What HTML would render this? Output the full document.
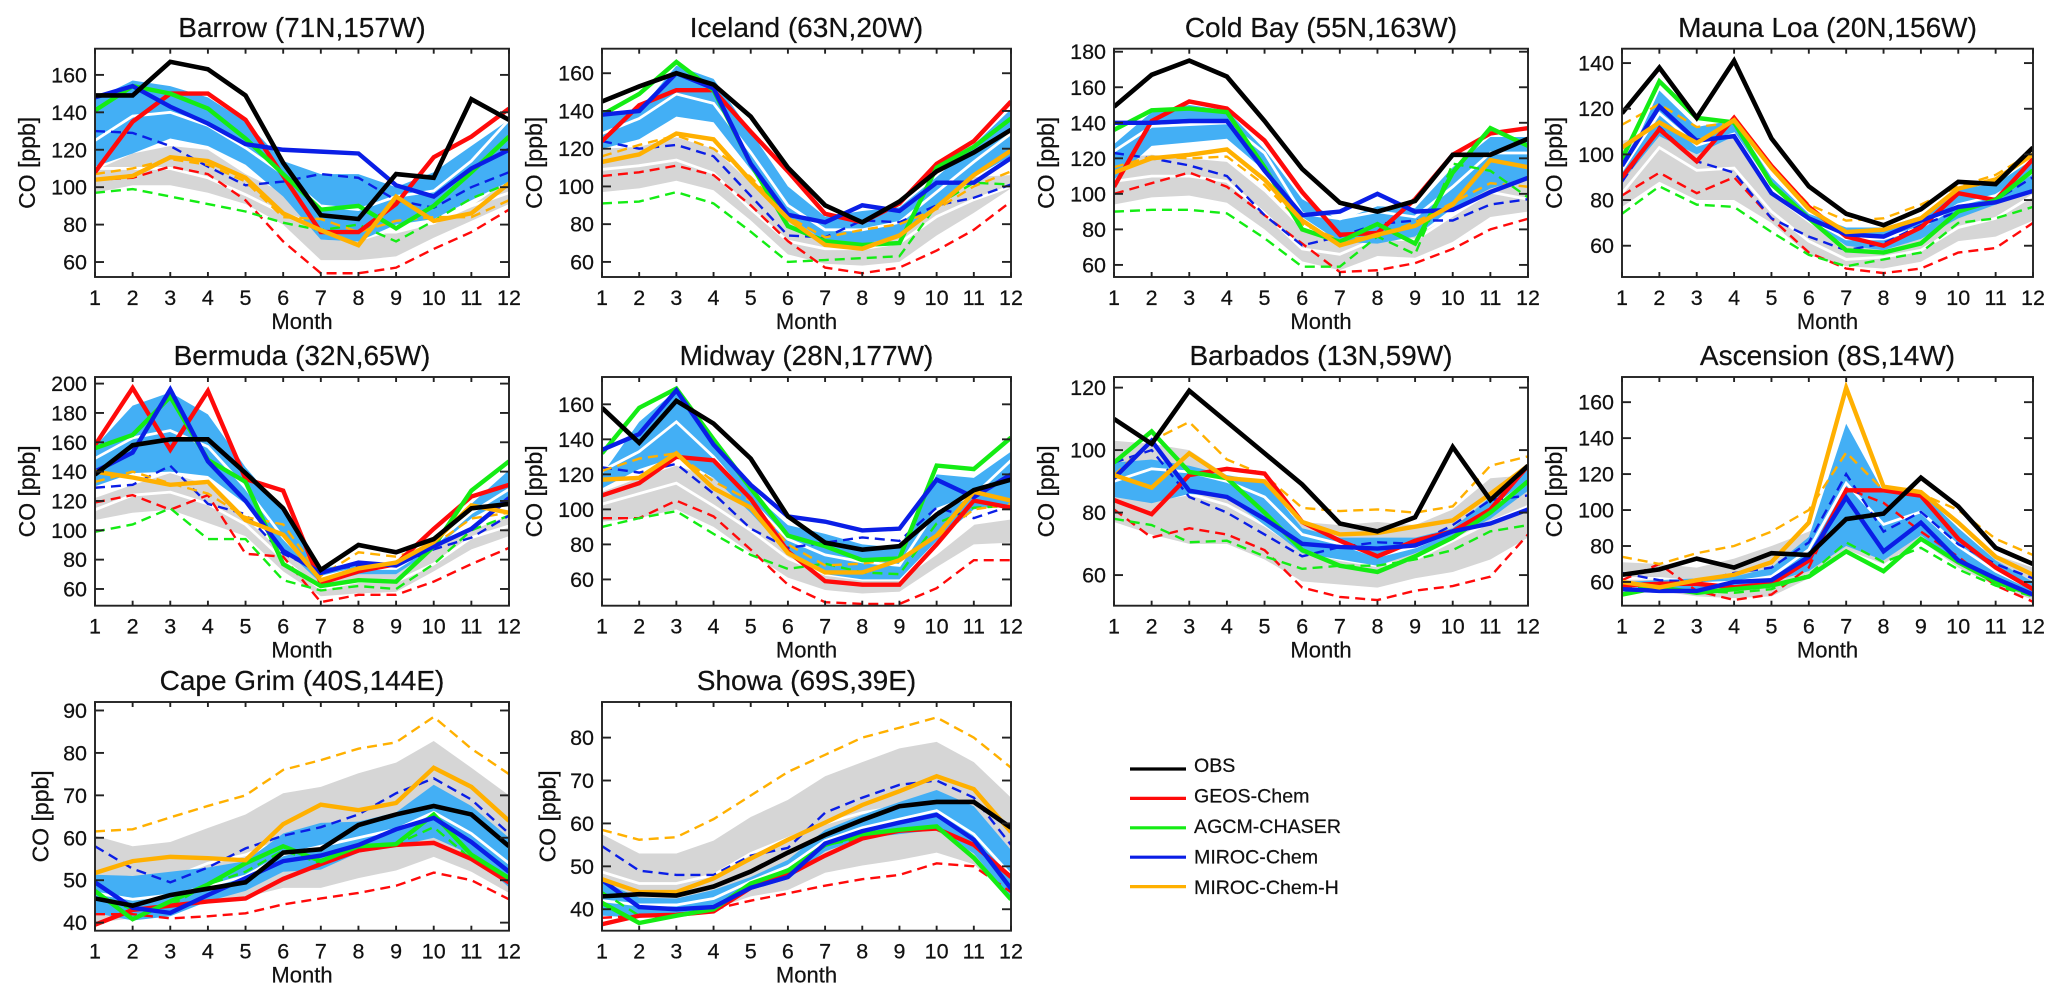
<!DOCTYPE html>
<html lang="en">
<head>
<meta charset="utf-8">
<title>CO seasonal cycle at surface stations</title>
<style>
html,body{margin:0;padding:0;background:#fff;width:2067px;height:1002px;overflow:hidden}
svg{display:block;font-family:"Liberation Sans",Arial,sans-serif}
text{fill:#111;stroke:#111;stroke-width:.22px}
</style>
</head>
<body>
<svg id="figure" xmlns="http://www.w3.org/2000/svg" width="2067" height="1002" viewBox="0 0 2067 1002"></svg>
<script>
const months = [1,2,3,4,5,6,7,8,9,10,11,12];

const barrowRange = [52,174];
const barrowTicks = [60,80,100,120,140,160];
const barrowObs = [149,149,167,163,149,113,85,83,107,105,147,136];
const barrowGeos = [108,135,150,150,136,106,76,76,91,116,127,142];
const barrowAgcm = [141,154,150,142,126,107,88,90,78,90,108,127];
const barrowMiroc = [148,154,143,134,123,120,119,118,101,95,110,120];
const barrowMirocH = [104,106,116,114,105,86,77,69,95,82,86,102];
const barrowGeosDash = [104,105,111,107,93,71,54,54,57,67,76,88];
const barrowAgcmDash = [97,99,95,91,87,81,77,80,71,82,94,102];
const barrowMirocDash = [130,129,122,111,101,103,107,105,93,89,100,108];
const barrowMirocHDash = [107,110,115,112,103,84,83,76,82,84,84,93];
const barrowBlueHi = [147,157,154,148,135,114,107,107,100,108,122,136];
const barrowBlueLo = [111,118,126,122,112,95,72,71,80,83,93,103];
const barrowBlueMid = [125,138,140,133,121,107,90,88,95,98,114,136];
const barrowGrayHi = [109,118,122,120,107,97,72,71,77,80,90,104];
const barrowGrayLo = [97,101,101,97,91,80,61,61,63,73,82,91];
const barrowGrayMid = [110,110,110,105,96,86,79,76,76,81,90,97];

const icelandRange = [52,173];
const icelandTicks = [60,80,100,120,140,160];
const icelandObs = [145,153,160,154,137,110,90,81,92,108,118,130];
const icelandGeos = [124,143,151,151,129,108,85.5,81,91,112,124,145];
const icelandAgcm = [138,149,166,151,112,79,71,69,70,110,121,136];
const icelandMiroc = [138,140,160,152,112,85,81,90,87,102,102,115];
const icelandMirocH = [113,117,128,125,103,83,69,67,74,89,106,119];
const icelandGeosDash = [105.5,107.5,111,106,90,71,57,54,57,66,77,92];
const icelandAgcmDash = [91,92,97,91,76,60,61,62,63,90,102,101];
const icelandMirocDash = [124,120,122,116,95,74,73,82,81,90,94,101];
const icelandMirocHDash = [116,122,127,120,105,84,73,77,80,88,100,108];
const icelandBlueHi = [139,140,164,157,129,100,84,87,89,105,122,141];
const icelandBlueLo = [120,125,137,134,109,84,71,69,74,89,105,116];
const icelandBlueMid = [128,136,149,144,118,90,77,77,81,97,113,128];
const icelandGrayHi = [120,121,126,120,102,84,75,73,80,94,105,106];
const icelandGrayLo = [97,99,103,98,82,64,59,58,60,74,86,99];
const icelandGrayMid = [109,111,114,107,88,71,67,67,70,84,93,100];

const coldBayRange = [53.2,181.7];
const coldBayTicks = [60,80,100,120,140,160,180];
const coldBayObs = [149,167,175,166,141,114,95,90,96,122,122,131];
const coldBayGeos = [104,141,152,148,130,101,77,78,97,122,134,137];
const coldBayAgcm = [136,147,148,146,115,80,73,83,72,112,137,127];
const coldBayMiroc = [140,140,141,141,113,88,90,100,90,91,101,109];
const coldBayMirocH = [112,120,122,125,108,85,71,77,82,94,119,115];
const coldBayGeosDash = [100,106,112,104,88,72,56,57,61,69,80,86];
const coldBayAgcmDash = [90,91,91,89,75,59,59,76,66,117,113,98];
const coldBayMirocDash = [123,120,116,110,88,71,76,83,85,85,94,97];
const coldBayMirocHDash = [115,121,120,121,105,83,74,76,84,95,106,104];
const coldBayBlueHi = [128,146,150,147,125,97,85,93,92,115,132,132];
const coldBayBlueLo = [108,127,129,131,113,87,73,72,76,92,103,109];
const coldBayBlueMid = [124,138,139,140,123,89,86,90,87,104,123,123];
const coldBayGrayHi = [120,122,120,118,101,80,74,78,76,88,108,110];
const coldBayGrayLo = [94,98,99,95,80,62,57,65,64,73,87,90];
const coldBayGrayMid = [107,110,110,107,89,69,66,75,74,88,101,97];

const maunaLoaRange = [46.3,146.3];
const maunaLoaTicks = [60,80,100,120,140];
const maunaLoaObs = [118,138,116,141,107,86,74,69,76,88,87,103];
const maunaLoaGeos = [90,111,97,116,95,77,64,60,68,83,80,98];
const maunaLoaAgcm = [98,132,116,114,87,72,58,57,61,75,80,93];
const maunaLoaMiroc = [95,121,106,108,83,72,65,64,71,77,79,84];
const maunaLoaMirocH = [103,114,105,115,94,76,66,67,72,85,89,100];
const maunaLoaGeosDash = [82,92,83,90,72,57,50,48,50,57,59,70];
const maunaLoaAgcmDash = [74,86,78,77,66,56,51,54,57,70,72,77];
const maunaLoaMirocDash = [88,112,97,92,72,64,58,61,69,75,80,90];
const maunaLoaMirocHDash = [113,122,112,114,95,78,71,72,78,86,91,101];
const maunaLoaBlueHi = [92,128,112,115,90,74,68,68,73,85,87,98];
const maunaLoaBlueLo = [88,108,100,108,82,71,60,58,63,72,78,85];
const maunaLoaBlueMid = [93,118,104,109,85,72,63,63,68,78,82,92];
const maunaLoaGrayHi = [106,109,100,108,82,70,60,60,64,74,80,88];
const maunaLoaGrayLo = [77,88,80,80,70,56,51,50,53,62,64,71];
const maunaLoaGrayMid = [83,103,93,94,75,62,54,55,58,68,72,82];

const bermudaRange = [48.6,204.5];
const bermudaTicks = [60,80,100,120,140,160,180,200];
const bermudaObs = [138,158,162,162,139,115,73,90,85,94,115,118];
const bermudaGeos = [158,197,155,195,135,127,64,72,77,101,123,131];
const bermudaAgcm = [156,165,191,148,133,77,62,66,65,89,127,147];
const bermudaMiroc = [140,153,196,147,120,86,71,78,76,89,101,122];
const bermudaMirocH = [140,136,131,133,107,97,66,74,78,92,117,112];
const bermudaGeosDash = [119,124,114,124,84,82,51,56,56,65,77,88];
const bermudaAgcmDash = [99,104,115,94,94,66,59,62,60,77,100,110];
const bermudaMirocDash = [129,131,144,118,111,84,72,76,76,87,95,110];
const bermudaMirocHDash = [133,140,132,125,109,104,69,85,82,90,108,112];
const bermudaBlueHi = [157,185,194,179,143,113,74,78,78,93,118,141];
const bermudaBlueLo = [130,139,140,137,118,88,64,70,70,87,108,122];
const bermudaBlueMid = [149,163,168,157,129,95,68,74,74,90,112,128];
const bermudaGrayHi = [122,131,139,131,108,85,70,70,70,88,100,110];
const bermudaGrayLo = [107,112,114,105,96,72,55,57,58,72,87,96];
const bermudaGrayMid = [114,124,126,118,104,80,60,65,65,77,95,103];

const midwayRange = [45,175.6];
const midwayTicks = [60,80,100,120,140,160];
const midwayObs = [158,138,162,149,129,96,81,77,79,97,111,117];
const midwayGeos = [108,115,130,128,106,76,59,57,57,80,105,101];
const midwayAgcm = [132,158,169,140,112,85,79,71,72,125,123,141];
const midwayMiroc = [134,143,168,137,114,96,93,88,89,117,107,120];
const midwayMirocH = [117,118,132,112,101,75,64,64,71,85,110,105];
const midwayGeosDash = [95,95,105,96,77,57,47,46,46,55,71,71];
const midwayAgcmDash = [90,95,99,86,74,66,69,64,63,92,101,102];
const midwayMirocDash = [124,121,126,109,89,78,81,84,82,101,95,102];
const midwayMirocHDash = [122,129,132,116,105,80,68,69,72,84,100,103];
const midwayBlueHi = [120,150,168,140,110,91,86,80,78,120,118,133];
const midwayBlueLo = [112,123,130,118,98,75,63,60,60,82,100,103];
const midwayBlueMid = [122,133,150,130,105,83,74,70,68,100,108,128];
const midwayGrayHi = [110,118,125,118,103,82,62,60,60,74,92,95];
const midwayGrayLo = [93,95,100,90,75,61,54,52,53,67,80,81];
const midwayGrayMid = [103,109,115,102,88,72,63,60,60,75,92,95];

const barbadosRange = [50.2,123.4];
const barbadosTicks = [60,80,100,120];
const barbadosObs = [110,102,119,109,99,89,76.5,74,78.5,101,84,95];
const barbadosGeos = [84,79.5,92,94,92.5,77,71,66,71,74,81,95];
const barbadosAgcm = [96,106,93,91,80,68,63,61,66,72,80,90];
const barbadosMiroc = [91,103,87,85,78,70,69,68.5,69.5,74,76.5,81];
const barbadosMirocH = [92,88,99,91,90,77,73,73.5,75.5,77.5,86,95];
const barbadosGeosDash = [81,72,75,73,68,56,53,52,55,56.5,59.5,73];
const barbadosAgcmDash = [78,76,70.5,71,66,62,63,63,65,68,74,76];
const barbadosMirocDash = [96,100,85,80,73,66,69,70.5,70,76,84,85.5];
const barbadosMirocHDash = [92,103,109,97,92,81.5,80.5,81,80,82,95,98];
const barbadosBlueHi = [96,97,95,92,90,75,72,72,72,75,85,94];
const barbadosBlueLo = [85,83,86,85,76,67,65,63,67,72,78,87];
const barbadosBlueMid = [90,94,93,90,85,73,70,66,69,74,81,90];
const barbadosGrayHi = [103,102,100,92,85,77,76,77,76,81,91,92];
const barbadosGrayLo = [77,73,70,70,65,58,57,56,59,61,65,72];
const barbadosGrayMid = [86,84,86,82.5,76,68,65,63,65,71,77,82];

const ascensionRange = [46.8,174];
const ascensionTicks = [60,80,100,120,140,160];
const ascensionObs = [64,67,73,68,76,75,95,98,118,102,79,70];
const ascensionGeos = [58,59,59,57,59,72,111,111,108,84,68,56];
const ascensionAgcm = [53,57,54,56,58,63,77,66,84,71,60,53];
const ascensionMiroc = [56,55,55,60,61,74,107,77,93,72,62,53];
const ascensionMirocH = [60,57,61,64,71,93,168,113,110,93,74,64];
const ascensionGeosDash = [61,70,55,50,53,68,112,104,88,74,58,49];
const ascensionAgcmDash = [57,56,55,54,56,64,82,71,79,67,58,52];
const ascensionMirocDash = [65,61,60,65,68,82,120,88,99,81,70,62];
const ascensionMirocHDash = [74,70,76,80,88,100,132,111,109,100,84,75];
const ascensionBlueHi = [60,61,62,63,68,85,148,110,110,90,72,60];
const ascensionBlueLo = [55,55,56,58,60,66,80,72,86,70,60,52];
const ascensionBlueMid = [57,59,59,60,63,78,115,92,99,80,66,56];
const ascensionGrayHi = [71,70,68,73,80,88,100,92,95,85,75,68];
const ascensionGrayLo = [54,55,52,51,52,62,78,70,83,68,58,50];
const ascensionGrayMid = [62,62,60,62,65,74,85,78,88,75,66,58];

const capeGrimRange = [38.1,92];
const capeGrimTicks = [40,50,60,70,80,90];
const capeGrimObs = [45.7,44,46.5,48,49.5,56.5,57.3,63,65.5,67.5,65.5,58];
const capeGrimGeos = [39.5,43,44,45,45.7,50.3,53.8,57,58.3,58.8,55,49.5];
const capeGrimAgcm = [47.5,40.8,45,49,54,58,54.5,58,58.5,65.5,56,50.5];
const capeGrimMiroc = [49.5,43.5,42.3,46.5,50.5,54.5,55.8,58.3,62,64.7,59,52];
const capeGrimMirocH = [51.7,54.5,55.5,55.2,54.7,63.2,67.8,66.5,68.2,76.5,72,64];
const capeGrimGeosDash = [42,42,41,41.5,42.2,44.3,45.7,47,48.7,51.8,50,45.5];
const capeGrimAgcmDash = [47,43,44,49,52,57,54,57,58.5,62.5,55,50];
const capeGrimMirocDash = [58,52.7,49.5,53,57.5,60.5,62.5,65.5,70.5,74,69,61];
const capeGrimMirocHDash = [61.5,62,64.8,67.5,70,76,78.3,81,82.5,88.5,81,75];
const capeGrimBlueHi = [51.3,51,52,53,54.5,61,63.5,63.8,66,72.5,67.5,60];
const capeGrimBlueLo = [42.3,40.5,41.5,45,47.5,52,52.5,56.5,58,60,56,48.3];
const capeGrimBlueMid = [47,45.5,46.5,48.5,51,56,58,60,62,66,61,54];
const capeGrimGrayHi = [60.5,58,59,62.3,65.5,70.5,72,75.2,77.7,82.8,76.5,70];
const capeGrimGrayLo = [40,41,42,45,46,48.2,48.2,50.5,52.3,55.5,52,47];
const capeGrimGrayMid = [50,49.5,50.5,54,56,59.5,60,63,65,69,64,58];

const showaRange = [35,88.3];
const showaTicks = [40,50,60,70,80];
const showaObs = [43,43.5,43.2,45.3,48.8,53.2,57.3,60.8,64,65,65,59];
const showaGeos = [36.5,38.5,38.7,39.5,45,48,52.5,56.5,58.3,58.8,55,47.5];
const showaAgcm = [41.5,36.8,38.5,40,46,49,55,57.5,58.5,59.3,52,42.3];
const showaMiroc = [46.8,40.5,40,40.5,45,47.5,55.3,58.2,60.2,62,56.2,44.8];
const showaMirocH = [47,44,44,47.2,51.8,56.2,60.2,64.3,67.5,71,68,58];
const showaGeosDash = [38,38.5,38.5,40,42,43.7,45.5,47,48,50.7,50,44];
const showaAgcmDash = [44,38.5,38.5,40,45,49,55,56.5,58.5,59.3,52,42.3];
const showaMirocDash = [54.7,49,48,48,52.5,54.3,62.5,66,69,70,66,55];
const showaMirocHDash = [58.5,56.2,56.8,61,66.5,72,76,80,82.3,84.7,80,73];
const showaBlueHi = [46.5,42.7,42.5,44.5,47.5,51.5,58.5,62,65,67.8,64,53.8];
const showaBlueLo = [38.5,38,39,39.5,44.5,47,53.5,56.5,57.5,58.5,53,42.5];
const showaBlueMid = [42,41,41,42.5,46.5,50,56,59,61,63,57.5,48];
const showaGrayHi = [57.5,53,53,56,61.5,65.5,71,74.3,77.5,79,74.3,66];
const showaGrayLo = [42,40,39,40,43,44.5,48.5,50.2,51.5,53.2,50.5,42.5];
const showaGrayMid = [48.7,46,46,48,53,56.5,60,62.5,64,64.5,60,50];

const legendLabels = ['OBS','GEOS-Chem','AGCM-CHASER','MIROC-Chem','MIROC-Chem-H'];

const COLORS = {obs:'#000000',geos:'#ff0a0a',agcm:'#14ec14',miroc:'#0a1ee6',mirocH:'#ffb000',blue:'#43aff5',gray:'#d6d6d6',white:'#ffffff',axis:'#222222'};
const COL_LEFT = [95,602,1114,1622];
const COL_RIGHT = [509,1011,1528,2033];
const ROW_TOP = [48.7,377,702];
const ROW_BOTTOM = [277,605.7,930.7];
const SVG_NS = 'http://www.w3.org/2000/svg';
const fig = document.getElementById('figure');

function make(tag, parent){
  const el = document.createElementNS(SVG_NS, tag);
  parent.appendChild(el);
  return el;
}

function pathFrom(xs, ys){
  return xs.map((x,i)=>(i?'L':'M')+x.toFixed(2)+' '+ys[i].toFixed(2)).join(' ');
}

function drawPanel(p){
  const left = COL_LEFT[p.col], right = COL_RIGHT[p.col];
  const top = ROW_TOP[p.row], bottom = ROW_BOTTOM[p.row];
  const xScale = m => left + (m-1)*(right-left)/11;
  const yScale = v => bottom - (v-p.range[0])*(bottom-top)/(p.range[1]-p.range[0]);
  const xs = months.map(xScale);

  const g = make('g', fig);
  
  

  const clip = make('clipPath', g);
  clip.setAttribute('id', 'clip-'+p.key);
  const clipRect = make('rect', clip);
  clipRect.setAttribute('x', left);
  clipRect.setAttribute('y', top);
  clipRect.setAttribute('width', right-left);
  clipRect.setAttribute('height', bottom-top);

  const marks = make('g', g);
  marks.setAttribute('clip-path', 'url(#clip-'+p.key+')');
  
  

  function band(hi, lo, color, name){
    const el = make('path', marks);
    const pts = hi.map(yScale), ptsLo = lo.map(yScale);
    el.setAttribute('d', pathFrom(xs, pts)+' '+pathFrom(xs.slice().reverse(), ptsLo.slice().reverse()).replace('M','L')+' Z');
    el.setAttribute('fill', color);
    
    
  }
  function series(vals, color, width, dash, name){
    const el = make('path', marks);
    el.setAttribute('d', pathFrom(xs, vals.map(yScale)));
    el.setAttribute('fill', 'none');
    el.setAttribute('stroke', color);
    el.setAttribute('stroke-width', width);
    el.setAttribute('stroke-linejoin', 'miter');
    if(dash) el.setAttribute('stroke-dasharray', dash);
    
    
  }

  band(p.grayHi, p.grayLo, COLORS.gray, 'gray-spread-band');
  series(p.grayMid, COLORS.white, 2.8, null, 'gray-band-mean-line');
  band(p.blueHi, p.blueLo, COLORS.blue, 'blue-spread-band');
  series(p.blueMid, COLORS.white, 2.8, null, 'blue-band-mean-line');
  series(p.geosDash, COLORS.geos, 2.4, '10 6', 'geos-chem-dashed-line');
  series(p.agcmDash, COLORS.agcm, 2.4, '10 6', 'agcm-chaser-dashed-line');
  series(p.mirocDash, COLORS.miroc, 2.4, '10 6', 'miroc-chem-dashed-line');
  series(p.mirocHDash, COLORS.mirocH, 2.4, '10 6', 'miroc-chem-h-dashed-line');
  series(p.geos, COLORS.geos, 4.4, null, 'geos-chem-line');
  series(p.agcm, COLORS.agcm, 4.4, null, 'agcm-chaser-line');
  series(p.miroc, COLORS.miroc, 4.4, null, 'miroc-chem-line');
  series(p.mirocH, COLORS.mirocH, 4.4, null, 'miroc-chem-h-line');
  series(p.obs, COLORS.obs, 4.6, null, 'obs-line');

  const frame = make('rect', g);
  frame.setAttribute('x', left);
  frame.setAttribute('y', top);
  frame.setAttribute('width', right-left);
  frame.setAttribute('height', bottom-top);
  frame.setAttribute('fill', 'none');
  frame.setAttribute('stroke', COLORS.axis);
  frame.setAttribute('stroke-width', 1.9);
  
  

  function tick(x1,y1,x2,y2,name){
    const el = make('line', g);
    el.setAttribute('x1', x1);
    el.setAttribute('y1', y1);
    el.setAttribute('x2', x2);
    el.setAttribute('y2', y2);
    el.setAttribute('stroke', COLORS.axis);
    el.setAttribute('stroke-width', 1.9);
    
    
  }
  function label(str,x,y,size,anchor,name,rot){
    const el = make('text', g);
    el.textContent = str;
    el.setAttribute('x', x);
    el.setAttribute('y', y);
    el.setAttribute('font-size', size);
    el.setAttribute('text-anchor', anchor);
    if(rot) el.setAttribute('transform', 'rotate(-90 '+x+' '+y+')');
    
    
    return el;
  }

  months.forEach(m=>{
    const x = xScale(m);
    tick(x,bottom,x,bottom-5,'x-tick');
    tick(x,top,x,top+5,'x-tick-top');
    label(String(m),x,bottom+28,21.5,'middle','x-tick-label');
  });
  p.ticks.forEach(v=>{
    const y = yScale(v);
    tick(left,y,left+9,y,'y-tick');
    tick(right,y,right-9,y,'y-tick-right');
    label(String(v),left-8,y+7.5,21.5,'end','y-tick-label');
  });
  label(p.title,(left+right)/2,bottom-240+(p.row===0?0:-0.7),28,'middle','panel-title');
  label('Month',(left+right)/2,bottom+52,22,'middle','x-axis-title');
  const labelOffset = Math.max(...p.ticks)>=100 ? 60 : 46.5;
  label('CO [ppb]',left-labelOffset,(top+bottom)/2,23,'middle','y-axis-title',true);
}

const panels = [
 {key:'barrow',title:'Barrow (71N,157W)',col:0,row:0,range:barrowRange,ticks:barrowTicks,obs:barrowObs,geos:barrowGeos,agcm:barrowAgcm,miroc:barrowMiroc,mirocH:barrowMirocH,geosDash:barrowGeosDash,agcmDash:barrowAgcmDash,mirocDash:barrowMirocDash,mirocHDash:barrowMirocHDash,blueHi:barrowBlueHi,blueLo:barrowBlueLo,blueMid:barrowBlueMid,grayHi:barrowGrayHi,grayLo:barrowGrayLo,grayMid:barrowGrayMid},
 {key:'iceland',title:'Iceland (63N,20W)',col:1,row:0,range:icelandRange,ticks:icelandTicks,obs:icelandObs,geos:icelandGeos,agcm:icelandAgcm,miroc:icelandMiroc,mirocH:icelandMirocH,geosDash:icelandGeosDash,agcmDash:icelandAgcmDash,mirocDash:icelandMirocDash,mirocHDash:icelandMirocHDash,blueHi:icelandBlueHi,blueLo:icelandBlueLo,blueMid:icelandBlueMid,grayHi:icelandGrayHi,grayLo:icelandGrayLo,grayMid:icelandGrayMid},
 {key:'cold-bay',title:'Cold Bay (55N,163W)',col:2,row:0,range:coldBayRange,ticks:coldBayTicks,obs:coldBayObs,geos:coldBayGeos,agcm:coldBayAgcm,miroc:coldBayMiroc,mirocH:coldBayMirocH,geosDash:coldBayGeosDash,agcmDash:coldBayAgcmDash,mirocDash:coldBayMirocDash,mirocHDash:coldBayMirocHDash,blueHi:coldBayBlueHi,blueLo:coldBayBlueLo,blueMid:coldBayBlueMid,grayHi:coldBayGrayHi,grayLo:coldBayGrayLo,grayMid:coldBayGrayMid},
 {key:'mauna-loa',title:'Mauna Loa (20N,156W)',col:3,row:0,range:maunaLoaRange,ticks:maunaLoaTicks,obs:maunaLoaObs,geos:maunaLoaGeos,agcm:maunaLoaAgcm,miroc:maunaLoaMiroc,mirocH:maunaLoaMirocH,geosDash:maunaLoaGeosDash,agcmDash:maunaLoaAgcmDash,mirocDash:maunaLoaMirocDash,mirocHDash:maunaLoaMirocHDash,blueHi:maunaLoaBlueHi,blueLo:maunaLoaBlueLo,blueMid:maunaLoaBlueMid,grayHi:maunaLoaGrayHi,grayLo:maunaLoaGrayLo,grayMid:maunaLoaGrayMid},
 {key:'bermuda',title:'Bermuda (32N,65W)',col:0,row:1,range:bermudaRange,ticks:bermudaTicks,obs:bermudaObs,geos:bermudaGeos,agcm:bermudaAgcm,miroc:bermudaMiroc,mirocH:bermudaMirocH,geosDash:bermudaGeosDash,agcmDash:bermudaAgcmDash,mirocDash:bermudaMirocDash,mirocHDash:bermudaMirocHDash,blueHi:bermudaBlueHi,blueLo:bermudaBlueLo,blueMid:bermudaBlueMid,grayHi:bermudaGrayHi,grayLo:bermudaGrayLo,grayMid:bermudaGrayMid},
 {key:'midway',title:'Midway (28N,177W)',col:1,row:1,range:midwayRange,ticks:midwayTicks,obs:midwayObs,geos:midwayGeos,agcm:midwayAgcm,miroc:midwayMiroc,mirocH:midwayMirocH,geosDash:midwayGeosDash,agcmDash:midwayAgcmDash,mirocDash:midwayMirocDash,mirocHDash:midwayMirocHDash,blueHi:midwayBlueHi,blueLo:midwayBlueLo,blueMid:midwayBlueMid,grayHi:midwayGrayHi,grayLo:midwayGrayLo,grayMid:midwayGrayMid},
 {key:'barbados',title:'Barbados (13N,59W)',col:2,row:1,range:barbadosRange,ticks:barbadosTicks,obs:barbadosObs,geos:barbadosGeos,agcm:barbadosAgcm,miroc:barbadosMiroc,mirocH:barbadosMirocH,geosDash:barbadosGeosDash,agcmDash:barbadosAgcmDash,mirocDash:barbadosMirocDash,mirocHDash:barbadosMirocHDash,blueHi:barbadosBlueHi,blueLo:barbadosBlueLo,blueMid:barbadosBlueMid,grayHi:barbadosGrayHi,grayLo:barbadosGrayLo,grayMid:barbadosGrayMid},
 {key:'ascension',title:'Ascension (8S,14W)',col:3,row:1,range:ascensionRange,ticks:ascensionTicks,obs:ascensionObs,geos:ascensionGeos,agcm:ascensionAgcm,miroc:ascensionMiroc,mirocH:ascensionMirocH,geosDash:ascensionGeosDash,agcmDash:ascensionAgcmDash,mirocDash:ascensionMirocDash,mirocHDash:ascensionMirocHDash,blueHi:ascensionBlueHi,blueLo:ascensionBlueLo,blueMid:ascensionBlueMid,grayHi:ascensionGrayHi,grayLo:ascensionGrayLo,grayMid:ascensionGrayMid},
 {key:'cape-grim',title:'Cape Grim (40S,144E)',col:0,row:2,range:capeGrimRange,ticks:capeGrimTicks,obs:capeGrimObs,geos:capeGrimGeos,agcm:capeGrimAgcm,miroc:capeGrimMiroc,mirocH:capeGrimMirocH,geosDash:capeGrimGeosDash,agcmDash:capeGrimAgcmDash,mirocDash:capeGrimMirocDash,mirocHDash:capeGrimMirocHDash,blueHi:capeGrimBlueHi,blueLo:capeGrimBlueLo,blueMid:capeGrimBlueMid,grayHi:capeGrimGrayHi,grayLo:capeGrimGrayLo,grayMid:capeGrimGrayMid},
 {key:'showa',title:'Showa (69S,39E)',col:1,row:2,range:showaRange,ticks:showaTicks,obs:showaObs,geos:showaGeos,agcm:showaAgcm,miroc:showaMiroc,mirocH:showaMirocH,geosDash:showaGeosDash,agcmDash:showaAgcmDash,mirocDash:showaMirocDash,mirocHDash:showaMirocHDash,blueHi:showaBlueHi,blueLo:showaBlueLo,blueMid:showaBlueMid,grayHi:showaGrayHi,grayLo:showaGrayLo,grayMid:showaGrayMid}
];
panels.forEach(drawPanel);

const legend = make('g', fig);


const legendColors = [COLORS.obs,COLORS.geos,COLORS.agcm,COLORS.miroc,COLORS.mirocH];
legendLabels.forEach((lab,i)=>{
  const ln = make('line', legend);
  ln.setAttribute('x1', 1130);
  ln.setAttribute('x2', 1186);
  ln.setAttribute('y1', 769+i*29.4);
  ln.setAttribute('y2', 769+i*29.4);
  ln.setAttribute('stroke', legendColors[i]);
  ln.setAttribute('stroke-width', 3.2);
  
  
  const tx = make('text', legend);
  tx.textContent = lab;
  tx.setAttribute('x', 1194);
  tx.setAttribute('y', 772+i*30.5);
  tx.setAttribute('font-size', 19.6);
  
  
});
</script>
</body>
</html>
